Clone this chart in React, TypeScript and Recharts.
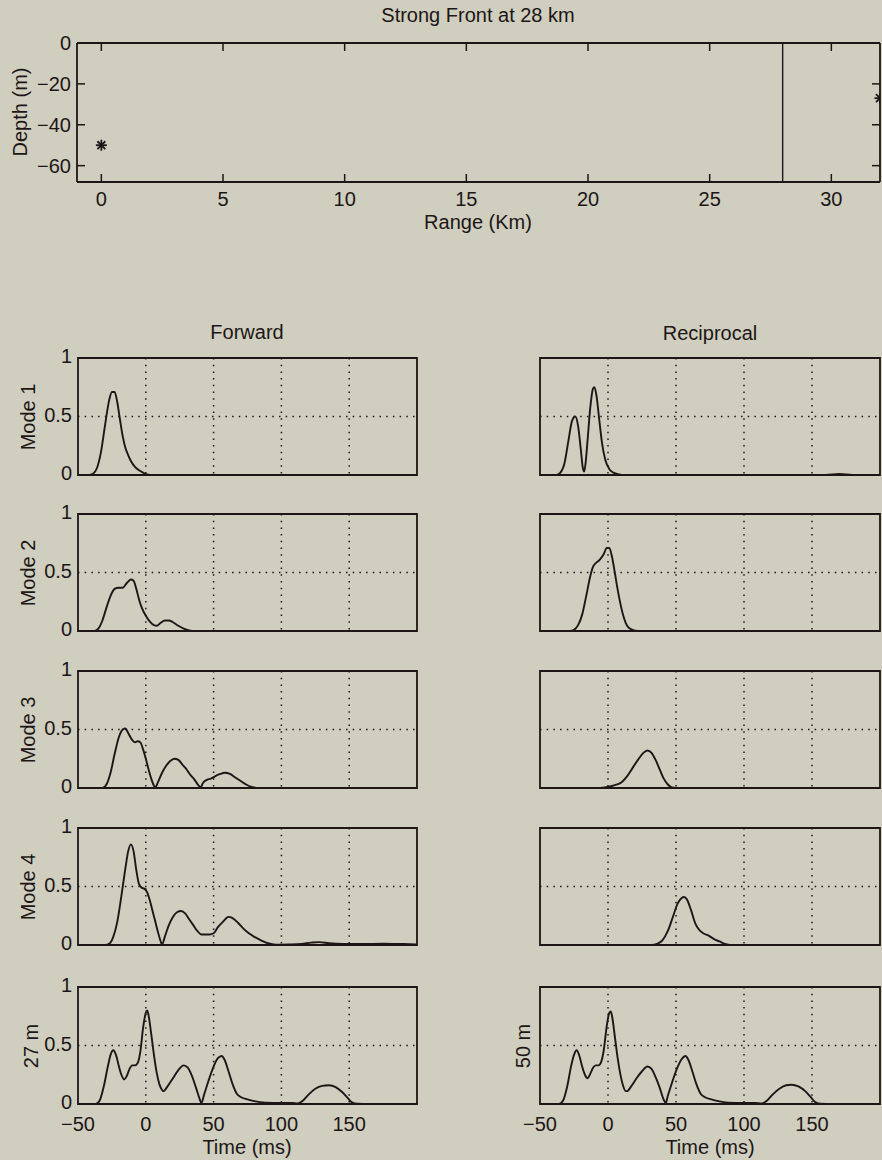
import { CartesianGrid, Line, LineChart, ReferenceArea, ReferenceLine, Scatter, ScatterChart, XAxis, YAxis } from 'recharts';

const BG = '#cfcebf';
const INK = '#1e1616';
const FONT = '"Liberation Sans", Arial, Helvetica, sans-serif';

// top panel: geometry of the experiment
const rangeTicks = [0, 5, 10, 15, 20, 25, 30];
const depthTicks = [-60, -40, -20, 0];
const sourcePoints = [{ range: 0, depth: -50 }];
const receiverPoints = [{ range: 32, depth: -27 }];
const frontRange = 28;

// arrival panels
const timeTicks = [-50, 0, 50, 100, 150];
const timeGrid = [0, 50, 100, 150];
const ampTicks = [0, 0.5, 1];

type Pair = [number, number];

const fwdMode1: Pair[] = [
  [-50, 0], [-42, 0], [-39, 0.01], [-36, 0.06], [-33, 0.2], [-30, 0.43], [-27, 0.64], [-25, 0.71], [-23, 0.71],
  [-21, 0.62], [-19, 0.47], [-17, 0.33], [-15, 0.23], [-13, 0.17], [-11, 0.12], [-8, 0.07], [-5, 0.04], [-2, 0.02],
  [1, 0.005], [5, 0], [200, 0],
];
const recMode1: Pair[] = [
  [-50, 0], [-38, 0], [-35, 0.02], [-32, 0.1], [-29, 0.3], [-26.5, 0.46], [-24, 0.5], [-22, 0.42], [-20, 0.22],
  [-18.5, 0.06], [-17.5, 0.03], [-16.5, 0.1], [-15, 0.3], [-13, 0.58], [-11, 0.74], [-10, 0.75], [-8.5, 0.68],
  [-6.5, 0.48], [-4.5, 0.28], [-2, 0.13], [1, 0.05], [4, 0.02], [8, 0.005], [12, 0], [160, 0], [170, 0.008],
  [180, 0], [200, 0],
];
const fwdMode2: Pair[] = [
  [-50, 0], [-38, 0], [-35, 0.02], [-32, 0.09], [-29, 0.2], [-26, 0.3], [-23, 0.36], [-20, 0.37], [-17, 0.37],
  [-14, 0.41], [-11, 0.44], [-9, 0.43], [-7, 0.36], [-5, 0.27], [-3, 0.2], [0, 0.13], [3, 0.08], [6, 0.05],
  [8, 0.045], [11, 0.07], [14, 0.09], [17, 0.09], [20, 0.075], [24, 0.045], [28, 0.02], [32, 0.005], [36, 0], [200, 0],
];
const recMode2: Pair[] = [
  [-50, 0], [-28, 0], [-25, 0.01], [-22, 0.05], [-19, 0.14], [-16, 0.3], [-13, 0.47], [-11, 0.55], [-9, 0.58],
  [-6, 0.61], [-3, 0.66], [-1, 0.71], [1, 0.71], [3, 0.63], [5, 0.5], [7, 0.36], [9, 0.24], [11, 0.14], [13, 0.07],
  [15, 0.03], [18, 0.01], [22, 0], [200, 0],
];
const fwdMode3: Pair[] = [
  [-50, 0], [-32, 0], [-29, 0.03], [-26, 0.13], [-23, 0.29], [-20, 0.43], [-17, 0.5], [-15, 0.51], [-13, 0.47],
  [-10, 0.41], [-8, 0.39], [-6, 0.4], [-4, 0.39], [-2, 0.33], [0, 0.25], [2, 0.16], [4, 0.08], [6, 0.02], [7, 0.005],
  [9, 0.05], [12, 0.13], [15, 0.19], [18, 0.23], [21, 0.25], [24, 0.24], [27, 0.2], [30, 0.16], [33, 0.11],
  [36, 0.07], [39, 0.02], [40.5, 0.005], [42, 0.04], [45, 0.07], [48, 0.08], [51, 0.1], [55, 0.12], [58, 0.13],
  [62, 0.12], [66, 0.09], [70, 0.06], [74, 0.03], [78, 0.01], [84, 0], [200, 0],
];
const recMode3: Pair[] = [
  [-50, 0], [-6, 0], [0, 0.01], [5, 0.025], [10, 0.05], [14, 0.1], [18, 0.17], [22, 0.24], [26, 0.3], [29, 0.32],
  [32, 0.3], [35, 0.24], [38, 0.16], [41, 0.08], [44, 0.03], [47, 0.005], [52, 0], [200, 0],
];
const fwdMode4: Pair[] = [
  [-50, 0], [-30, 0], [-27, 0.01], [-24, 0.07], [-21, 0.2], [-18, 0.42], [-15, 0.66], [-13, 0.8], [-11, 0.86],
  [-9, 0.8], [-7, 0.64], [-5, 0.52], [-3, 0.49], [-1, 0.48], [1, 0.45], [3, 0.38], [5, 0.29], [7, 0.2], [9, 0.11],
  [11, 0.03], [12, 0.005], [14, 0.07], [17, 0.17], [20, 0.24], [23, 0.28], [26, 0.29], [29, 0.27], [32, 0.22],
  [35, 0.17], [38, 0.12], [41, 0.09], [44, 0.09], [47, 0.09], [50, 0.1], [53, 0.15], [57, 0.2], [61, 0.24],
  [64, 0.23], [68, 0.19], [72, 0.14], [76, 0.1], [80, 0.07], [85, 0.04], [90, 0.015], [96, 0.003], [105, 0.005],
  [115, 0.01], [122, 0.02], [128, 0.025], [135, 0.015], [145, 0.008], [160, 0.008], [175, 0.012], [190, 0.008],
  [200, 0.005],
];
const recMode4: Pair[] = [
  [-50, 0], [32, 0], [36, 0.01], [40, 0.04], [44, 0.12], [48, 0.25], [51, 0.35], [54, 0.4], [56, 0.41], [58, 0.39],
  [61, 0.3], [64, 0.19], [67, 0.13], [70, 0.1], [74, 0.08], [78, 0.05], [82, 0.03], [86, 0.01], [90, 0], [200, 0],
];
const fwdTotal27m: Pair[] = [
  [-50, 0], [-37, 0], [-34, 0.03], [-31, 0.15], [-28, 0.32], [-26, 0.42], [-24, 0.46], [-22, 0.42], [-20, 0.33],
  [-18, 0.25], [-16, 0.21], [-14, 0.24], [-12, 0.3], [-10, 0.33], [-8, 0.33], [-6, 0.35], [-4, 0.45], [-2, 0.65],
  [0, 0.78], [1, 0.8], [2, 0.76], [4, 0.6], [6, 0.42], [8, 0.27], [10, 0.17], [12, 0.12], [13, 0.11], [16, 0.15],
  [20, 0.22], [24, 0.29], [28, 0.33], [31, 0.31], [34, 0.24], [37, 0.14], [39.5, 0.05], [41, 0.01], [43, 0.08],
  [46, 0.19], [50, 0.32], [53, 0.39], [56, 0.41], [58, 0.38], [61, 0.28], [64, 0.17], [67, 0.09], [70, 0.06],
  [75, 0.04], [80, 0.025], [88, 0.012], [100, 0.008], [108, 0.01], [112, 0.005], [116, 0.03], [120, 0.08],
  [125, 0.13], [130, 0.155], [135, 0.16], [140, 0.145], [145, 0.1], [149, 0.05], [152, 0.015], [156, 0.003],
  [165, 0], [200, 0],
];
const recTotal50m: Pair[] = [
  [-50, 0], [-36, 0], [-33, 0.03], [-30, 0.15], [-27, 0.33], [-25, 0.42], [-23, 0.46], [-21, 0.41], [-19, 0.32],
  [-17, 0.25], [-15, 0.22], [-13, 0.26], [-11, 0.31], [-9, 0.33], [-7, 0.33], [-5, 0.36], [-3, 0.47], [-1, 0.66],
  [1, 0.78], [2, 0.79], [3, 0.75], [5, 0.58], [7, 0.4], [9, 0.26], [11, 0.16], [13, 0.11], [14, 0.11], [17, 0.15],
  [21, 0.22], [25, 0.28], [29, 0.32], [32, 0.3], [35, 0.23], [38, 0.14], [40.5, 0.05], [42.5, 0.01], [44, 0.07],
  [47, 0.18], [51, 0.31], [54, 0.38], [57, 0.41], [59, 0.38], [62, 0.28], [65, 0.17], [68, 0.09], [71, 0.06],
  [76, 0.04], [81, 0.025], [88, 0.012], [100, 0.008], [108, 0.01], [113, 0.005], [117, 0.03], [121, 0.08],
  [126, 0.13], [131, 0.16], [135, 0.165], [140, 0.15], [145, 0.11], [149, 0.06], [152, 0.02], [156, 0.003],
  [165, 0], [200, 0],
];

const rowLabels = ['Mode 1', 'Mode 2', 'Mode 3', 'Mode 4'];
const forwardSeries = [fwdMode1, fwdMode2, fwdMode3, fwdMode4, fwdTotal27m];
const reciprocalSeries = [recMode1, recMode2, recMode3, recMode4, recTotal50m];

const rowTops = [358, 514, 671, 828, 987];
const PANEL_H = 117;

const tickText = { fill: INK, fontSize: 20, fontFamily: FONT };
const minus = (v: number) => (v < 0 ? `\u2212${Math.abs(v)}` : `${v}`);
const blank = () => '';

// geometry plot box (pixels) and domains, used to size the inward tick marks
const RANGE_DOMAIN: [number, number] = [-1, 32];
const DEPTH_DOMAIN: [number, number] = [-68, 0];
const GEO_W = 803;
const GEO_H = 139;
const TICK_PX = 8;
const tickDepth = (TICK_PX / GEO_H) * (DEPTH_DOMAIN[1] - DEPTH_DOMAIN[0]);
const tickRange = (TICK_PX / GEO_W) * (RANGE_DOMAIN[1] - RANGE_DOMAIN[0]);

function RangeLabel(props: any) {
  const { x, y, payload } = props;
  return (
    <text x={x} y={y + 8} textAnchor="middle" {...tickText}>
      {minus(payload.value)}
    </text>
  );
}

function DepthLabel(props: any) {
  const { x, y, payload } = props;
  return (
    <text x={x} y={y} dy="0.355em" textAnchor="end" {...tickText}>
      {minus(payload.value)}
    </text>
  );
}

function Caption({ x, y, text, vertical }: { x: number; y: number; text: string; vertical?: boolean }) {
  return (
    <div
      style={{
        position: 'absolute',
        left: x,
        top: y,
        transform: `translate(-50%, -50%)${vertical ? ' rotate(-90deg)' : ''}`,
        whiteSpace: 'nowrap',
        font: `20px ${FONT}`,
        lineHeight: '22px',
        color: INK,
      }}
    >
      {text}
    </div>
  );
}

function Asterisk(props: any) {
  const { cx, cy } = props;
  const r = 5.5;
  const d = r * 0.72;
  return (
    <g stroke={INK} strokeWidth={1.8}>
      <line x1={cx - r} y1={cy} x2={cx + r} y2={cy} />
      <line x1={cx} y1={cy - r} x2={cx} y2={cy + r} />
      <line x1={cx - d} y1={cy - d} x2={cx + d} y2={cy + d} />
      <line x1={cx - d} y1={cy + d} x2={cx + d} y2={cy - d} />
    </g>
  );
}

const frame = { stroke: INK, strokeWidth: 1.8 };

function GeometryPanel() {
  // plot area: x 77..880, y 43..182
  const [dLo, dHi] = DEPTH_DOMAIN;
  const [rLo, rHi] = RANGE_DOMAIN;
  return (
    <div style={{ position: 'absolute', left: 0, top: 0 }}>
      <ScatterChart width={882} height={240} margin={{ top: 23, right: 0, bottom: 0, left: 0 }}>
        <XAxis
          xAxisId="b"
          type="number"
          dataKey="range"
          domain={RANGE_DOMAIN}
          ticks={rangeTicks}
          height={58}
          tickSize={0}
          tickMargin={16}
          tick={RangeLabel}
          axisLine={frame}
          tickLine={false}
          allowDataOverflow
        />
        <XAxis
          xAxisId="t"
          orientation="top"
          type="number"
          domain={RANGE_DOMAIN}
          ticks={rangeTicks}
          height={20}
          tickFormatter={blank}
          axisLine={frame}
          tickLine={false}
          allowDataOverflow
        />
        <YAxis
          yAxisId="l"
          type="number"
          dataKey="depth"
          domain={DEPTH_DOMAIN}
          ticks={depthTicks}
          width={77}
          tickSize={0}
          tickMargin={6}
          tick={DepthLabel}
          axisLine={frame}
          tickLine={false}
          allowDataOverflow
        />
        <YAxis
          yAxisId="r"
          orientation="right"
          type="number"
          domain={DEPTH_DOMAIN}
          ticks={depthTicks}
          width={2}
          tickFormatter={blank}
          axisLine={frame}
          tickLine={false}
          allowDataOverflow
        />
        {rangeTicks.map((r) => (
          <ReferenceLine
            key={`rb${r}`}
            xAxisId="b"
            yAxisId="l"
            segment={[{ x: r, y: dLo }, { x: r, y: dLo + tickDepth }]}
            stroke={INK}
            strokeWidth={1.5}
          />
        ))}
        {rangeTicks.map((r) => (
          <ReferenceLine
            key={`rt${r}`}
            xAxisId="b"
            yAxisId="l"
            segment={[{ x: r, y: dHi }, { x: r, y: dHi - tickDepth }]}
            stroke={INK}
            strokeWidth={1.5}
          />
        ))}
        {depthTicks.slice(0, 3).map((d) => (
          <ReferenceLine
            key={`dl${d}`}
            xAxisId="b"
            yAxisId="l"
            segment={[{ x: rLo, y: d }, { x: rLo + tickRange, y: d }]}
            stroke={INK}
            strokeWidth={1.5}
          />
        ))}
        {depthTicks.slice(0, 3).map((d) => (
          <ReferenceLine
            key={`dr${d}`}
            xAxisId="b"
            yAxisId="l"
            segment={[{ x: rHi, y: d }, { x: rHi - tickRange, y: d }]}
            stroke={INK}
            strokeWidth={1.5}
          />
        ))}
        <ReferenceLine x={frontRange} xAxisId="b" yAxisId="l" stroke={INK} strokeWidth={1.4} />
        <Scatter data={sourcePoints} dataKey="depth" xAxisId="b" yAxisId="l" shape={Asterisk} isAnimationActive={false} />
        <Scatter data={receiverPoints} dataKey="depth" xAxisId="b" yAxisId="l" shape={Asterisk} isAnimationActive={false} />
      </ScatterChart>
    </div>
  );
}

function TracePanel({ series, column, top, showTimeLabels }: { series: Pair[]; column: 'left' | 'right'; top: number; showTimeLabels: boolean }) {
  const isLeft = column === 'left';
  const chartLeft = isLeft ? 0 : 440;
  const width = isLeft ? 440 : 442;
  const plotLeft = isLeft ? 78 : 100;
  const plotRight = isLeft ? 417 : 440;
  const data = series.map(([t, v]) => ({ t, v }));

  return (
    <div style={{ position: 'absolute', left: chartLeft, top: top - 20 }}>
      <LineChart width={width} height={PANEL_H + 50} data={data} margin={{ top: 20, right: width - plotRight, bottom: 0, left: 0 }}>
        <CartesianGrid
          horizontalValues={[0.5]}
          verticalValues={timeGrid}
          stroke={INK}
          strokeWidth={1.5}
          strokeDasharray="1.5 5.2"
        />
        <XAxis
          type="number"
          dataKey="t"
          domain={[-50, 200]}
          ticks={timeTicks}
          height={30}
          tickSize={0}
          tickMargin={13}
          tick={tickText}
          tickFormatter={showTimeLabels ? minus : blank}
          axisLine={false}
          tickLine={false}
          allowDataOverflow
        />
        <YAxis
          type="number"
          domain={[0, 1]}
          ticks={ampTicks}
          width={plotLeft}
          tickSize={0}
          tickMargin={6}
          tick={{ ...tickText, dy: -2 }}
          tickFormatter={isLeft ? undefined : blank}
          axisLine={false}
          tickLine={false}
          allowDataOverflow
        />
        <ReferenceArea x1={-50} x2={200} y1={0} y2={1} fill="none" stroke={INK} strokeWidth={1.8} fillOpacity={0} />
        <Line type="monotone" dataKey="v" stroke={INK} strokeWidth={1.9} dot={false} isAnimationActive={false} />
      </LineChart>
    </div>
  );
}

export default function App() {
  return (
    <div style={{ position: 'absolute', left: 0, top: 0, width: 882, height: 1160, background: BG, overflow: 'hidden' }}>
      <Caption x={478} y={15} text="Strong Front at 28 km" />
      <GeometryPanel />
      <Caption x={20} y={112} text="Depth (m)" vertical />
      <Caption x={478} y={222} text="Range (Km)" />

      <Caption x={247} y={332} text="Forward" />
      <Caption x={710} y={333} text="Reciprocal" />

      {forwardSeries.map((s, i) => (
        <TracePanel key={`f${i}`} series={s} column="left" top={rowTops[i]} showTimeLabels={i === 4} />
      ))}
      {reciprocalSeries.map((s, i) => (
        <TracePanel key={`r${i}`} series={s} column="right" top={rowTops[i]} showTimeLabels={i === 4} />
      ))}

      {rowLabels.map((label, i) => (
        <Caption key={label} x={28} y={rowTops[i] + PANEL_H / 2} text={label} vertical />
      ))}
      <Caption x={31} y={rowTops[4] + PANEL_H / 2} text="27 m" vertical />
      <Caption x={523} y={rowTops[4] + PANEL_H / 2} text="50 m" vertical />

      <Caption x={247} y={1147} text="Time (ms)" />
      <Caption x={710} y={1147} text="Time (ms)" />
    </div>
  );
}
